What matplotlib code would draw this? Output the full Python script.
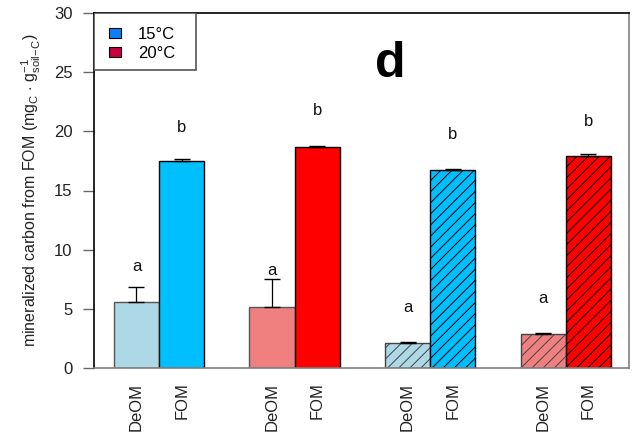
import matplotlib
matplotlib.use('Agg')
import matplotlib.pyplot as plt
from matplotlib.patches import Patch, Rectangle

plt.rcParams['font.family'] = ['Liberation Sans', 'DejaVu Sans']
plt.rcParams['mathtext.fontset'] = 'custom'
plt.rcParams['mathtext.rm'] = 'Liberation Sans'
plt.rcParams['mathtext.it'] = 'Liberation Sans:italic'
plt.rcParams['hatch.linewidth'] = 0.7

# bars in plotting order: 15C, 20C, 15C hatched, 20C hatched
bar_labels = ['DeOM', 'FOM', 'DeOM', 'FOM', 'DeOM', 'FOM', 'DeOM', 'FOM']
means = [5.55, 17.5, 5.15, 18.65, 2.09, 16.71, 2.85, 17.9]
errors = [1.3, 0.12, 2.4, 0.1, 0.08, 0.08, 0.08, 0.19]
letters = ['a', 'b', 'a', 'b', 'a', 'b', 'a', 'b']
letter_y = [8.6, 20.3, 8.2, 21.8, 5.15, 19.7, 5.9, 20.8]
fills = ['#ADD8E6', '#00BFFF', '#F08080', '#FF0000',
         '#ADD8E6', '#00BFFF', '#F08080', '#FF0000']
edges = ['#555555', '#000000', '#555555', '#000000',
         '#444444', '#000000', '#444444', '#000000']
hatches = [None, None, None, None, '///', '///', '///', '///']

legend_labels = ['15°C', '20°C']
legend_colors = ['#0A80FF', '#C8003C']

fig = plt.figure(figsize=(6.4, 4.34), dpi=100)
ax = fig.add_axes([94 / 640, 1 - 368 / 434, 535 / 640, 355 / 434])

# two bars per treatment, one empty slot between treatments
x = [3 * (i // 2) + (i % 2) for i in range(len(means))]

for i in range(len(means)):
    ax.bar(x[i], means[i], width=1.0, color=fills[i], edgecolor=edges[i],
           linewidth=1.0, hatch=hatches[i], zorder=2)
    ax.errorbar(x[i], means[i], yerr=[[0], [errors[i]]], fmt='none',
                ecolor='black', elinewidth=0.9, capsize=5.5, capthick=1.0, zorder=3)
    ax.text(x[i], letter_y[i], letters[i], ha='center', va='center',
            fontsize=12, color='#111111')

ax.set_xlim(-0.94, 10.9)
ax.set_ylim(0, 30)
ax.set_yticks(range(0, 31, 5))
ax.tick_params(axis='y', length=8, width=1, color='#666666', labelsize=12,
               labelcolor='#222222', pad=7.5)
ax.set_xticks(x)
ax.set_xticklabels(bar_labels, rotation=90, fontsize=12, color='#222222', va='top')
ax.tick_params(axis='x', length=0, pad=10.5)

ax.spines['left'].set_color('black')
ax.spines['top'].set_color('black')
ax.spines['right'].set_color('#808080')
ax.spines['bottom'].set_color('#808080')
for s in ax.spines.values():
    s.set_linewidth(1.2)

ax.set_ylabel(r'mineralized carbon from FOM (mg$_{\mathrm{C}}$ $\cdot$ g$_{\mathrm{soil\!-\!C}}^{-1}$)',
              fontsize=11.5, color='#222222', labelpad=8)

ax.text(0.553, 0.855, 'd', transform=ax.transAxes, fontsize=36, fontweight='bold',
        ha='center', va='center')

# legend box drawn by hand so its size matches the original
ax.add_patch(Rectangle((0, 1 - 57 / 355), 102 / 535, 57 / 355, transform=ax.transAxes,
                       facecolor='white', edgecolor='#555555', linewidth=1.2, zorder=4))
handles = [Patch(facecolor=c, edgecolor='black', linewidth=0.8) for c in legend_colors]
leg = ax.legend(handles, legend_labels, loc='upper left',
                bbox_to_anchor=(15 / 535, 1 - 14 / 355), borderaxespad=0, borderpad=0,
                frameon=False, fontsize=12, handlelength=0.72, handleheight=0.55,
                handletextpad=1.0, labelspacing=0.22)
leg.set_zorder(5)

fig.savefig('out.png', dpi=100)
